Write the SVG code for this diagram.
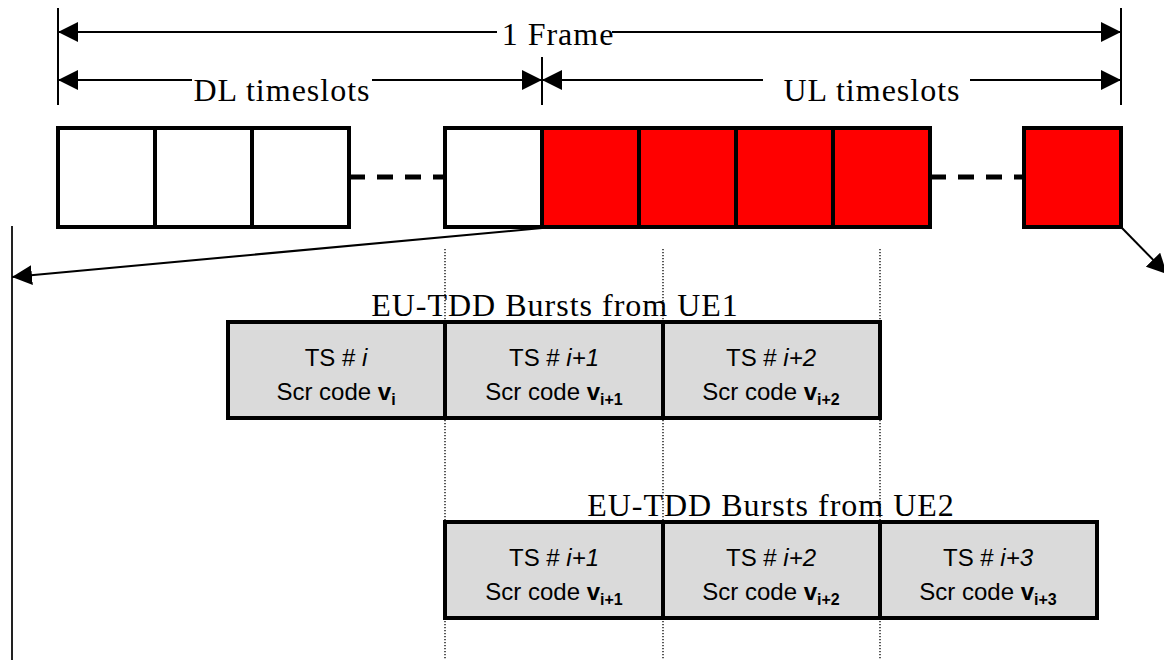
<svg xmlns="http://www.w3.org/2000/svg" width="1164" height="660" viewBox="0 0 1164 660">
<style>
.serif{font-family:"Liberation Serif","Times New Roman",serif;font-size:32px;fill:#000;letter-spacing:1px}
.sans{font-family:"Liberation Sans",Arial,sans-serif;font-size:24px;fill:#000;text-anchor:middle}
.sub{font-size:16px;font-weight:bold}
.b{font-weight:bold}
.it{font-style:italic}
.slot{stroke:#000;stroke-width:4}
.white{fill:#fff}
.red{fill:#ff0000}
.cell{fill:#dadada;stroke:#000;stroke-width:4}
.dim{stroke:#000;stroke-width:2;fill:none}
.tick{stroke:#000;stroke-width:2}
.dots{stroke:#000;stroke-width:1.3;stroke-dasharray:1.3 1.7}
.dash{stroke:#000;stroke-width:5;stroke-dasharray:16 12}
</style>
<defs>
<marker id="ah" markerUnits="userSpaceOnUse" markerWidth="20" markerHeight="20" refX="20" refY="10" orient="auto-start-reverse" viewBox="0 0 20 20">
<path d="M0,0 L20,10 L0,20 z" fill="#000"/>
</marker>
</defs>
<rect width="1164" height="660" fill="#fff"/>

<g id="guides">
<line class="dots" x1="445" y1="249" x2="445" y2="660"/>
<line class="dots" x1="663" y1="249" x2="663" y2="660"/>
<line class="dots" x1="880" y1="249" x2="880" y2="660"/>
<line class="tick" x1="58" y1="8" x2="58" y2="105"/>
<line class="tick" x1="542" y1="57" x2="542" y2="105"/>
<line class="tick" x1="1121" y1="8" x2="1121" y2="105"/>
<line x1="12" y1="226" x2="12" y2="660" stroke="#222" stroke-width="2"/>
</g>

<g id="connectors">
<line class="dim" x1="58" y1="32" x2="497" y2="32" marker-start="url(#ah)"/>
<line class="dim" x1="612" y1="32" x2="1121" y2="32" marker-end="url(#ah)"/>
<line class="dim" x1="58" y1="80" x2="192" y2="80" marker-start="url(#ah)"/>
<line class="dim" x1="372" y1="80" x2="542" y2="80" marker-end="url(#ah)"/>
<line class="dim" x1="542" y1="80" x2="763" y2="80" marker-start="url(#ah)"/>
<line class="dim" x1="970" y1="80" x2="1121" y2="80" marker-end="url(#ah)"/>
<line class="dash" x1="349" y1="177" x2="445" y2="177"/>
<line class="dash" x1="930" y1="177" x2="1024" y2="177"/>
<line class="dim" x1="542" y1="228" x2="12" y2="277" marker-end="url(#ah)"/>
<line class="dim" x1="1121" y1="227" x2="1167" y2="274" marker-end="url(#ah)"/>
</g>

<g id="labels">
<text class="serif" x="558" y="45" text-anchor="middle">1 Frame</text>
<text class="serif" x="282" y="101" text-anchor="middle">DL timeslots</text>
<text class="serif" x="872" y="101" text-anchor="middle">UL timeslots</text>
</g>

<g id="frame-slots">
<rect class="slot white" x="58" y="128" width="97" height="99"/>
<rect class="slot white" x="155" y="128" width="97" height="99"/>
<rect class="slot white" x="252" y="128" width="97" height="99"/>
<rect class="slot white" x="445" y="128" width="97" height="99"/>
<rect class="slot red" x="542" y="128" width="97" height="99"/>
<rect class="slot red" x="639" y="128" width="97" height="99"/>
<rect class="slot red" x="736" y="128" width="97" height="99"/>
<rect class="slot red" x="833" y="128" width="97" height="99"/>
<rect class="slot red" x="1024" y="128" width="97" height="99"/>
</g>

<g id="ue1">
<text class="serif" x="555" y="316" text-anchor="middle">EU-TDD Bursts from UE1</text>
<rect class="cell" x="228" y="322" width="217" height="96"/>
<rect class="cell" x="445" y="322" width="218" height="96"/>
<rect class="cell" x="663" y="322" width="217" height="96"/>
<text class="sans" x="336" y="366">TS # <tspan class="it">i</tspan></text>
<text class="sans" x="336" y="400">Scr code <tspan class="b">v</tspan><tspan class="sub" dy="5">i</tspan></text>
<text class="sans" x="554" y="366">TS # <tspan class="it">i+1</tspan></text>
<text class="sans" x="554" y="400">Scr code <tspan class="b">v</tspan><tspan class="sub" dy="5">i+1</tspan></text>
<text class="sans" x="771" y="366">TS # <tspan class="it">i+2</tspan></text>
<text class="sans" x="771" y="400">Scr code <tspan class="b">v</tspan><tspan class="sub" dy="5">i+2</tspan></text>
</g>

<g id="ue2">
<text class="serif" x="771" y="516" text-anchor="middle">EU-TDD Bursts from UE2</text>
<rect class="cell" x="445" y="522" width="218" height="96"/>
<rect class="cell" x="663" y="522" width="217" height="96"/>
<rect class="cell" x="880" y="522" width="217" height="96"/>
<text class="sans" x="554" y="566">TS # <tspan class="it">i+1</tspan></text>
<text class="sans" x="554" y="600">Scr code <tspan class="b">v</tspan><tspan class="sub" dy="5">i+1</tspan></text>
<text class="sans" x="771" y="566">TS # <tspan class="it">i+2</tspan></text>
<text class="sans" x="771" y="600">Scr code <tspan class="b">v</tspan><tspan class="sub" dy="5">i+2</tspan></text>
<text class="sans" x="988" y="566">TS # <tspan class="it">i+3</tspan></text>
<text class="sans" x="988" y="600">Scr code <tspan class="b">v</tspan><tspan class="sub" dy="5">i+3</tspan></text>
</g>
</svg>
